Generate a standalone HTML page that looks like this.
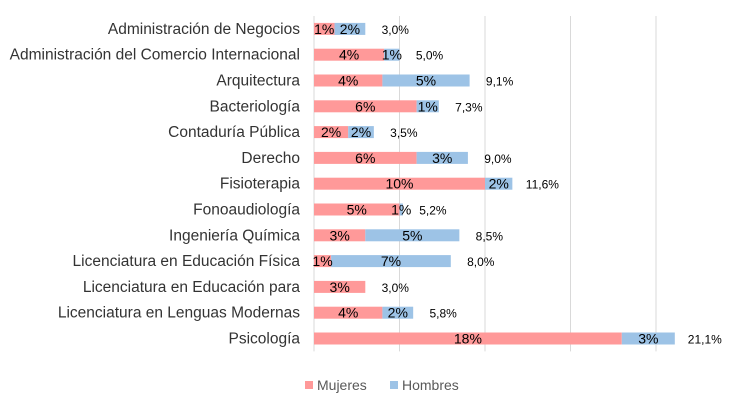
<!DOCTYPE html>
<html><head><meta charset="utf-8"><style>
body{margin:0;background:#fff;width:744px;height:402px;overflow:hidden;font-family:"Liberation Sans",sans-serif}
</style></head><body>
<svg id="chart" width="744" height="402" xmlns="http://www.w3.org/2000/svg"></svg>
<script>
const categories=["Administración de Negocios","Administración del Comercio Internacional","Arquitectura","Bacteriología","Contaduría Pública","Derecho","Fisioterapia","Fonoaudiología","Ingeniería Química","Licenciatura en Educación Física","Licenciatura en Educación para","Licenciatura en Lenguas Modernas","Psicología"];
const mujeres=[1.2,4.1,4.0,6.0,2.0,6.0,10.0,5.0,3.0,1.0,3.0,4.0,18.0];
const hombres=[1.8,0.9,5.1,1.3,1.5,3.0,1.6,0.2,5.5,7.0,0,1.8,3.1];
const mujeresLabels=["1%","4%","4%","6%","2%","6%","10%","5%","3%","1%","3%","4%","18%"];
const hombresLabels=["2%","1%","5%","1%","2%","3%","2%","1%","5%","7%","","2%","3%"];
const totalLabels=["3,0%","5,0%","9,1%","7,3%","3,5%","9,0%","11,6%","5,2%","8,5%","8,0%","3,0%","5,8%","21,1%"];
const gridValues=[0,5,10,15,20];
const NS="http://www.w3.org/2000/svg";
const svg=document.getElementById('chart');
const x0=314,pxPer=17.1,yTop=16,rowH=25.8,barH=12;
const xs=v=>x0+v*pxPer;
const yc=i=>yTop+rowH*(i+0.5);
function mk(t,a){const e=document.createElementNS(NS,t);for(const k in a)e.setAttribute(k,a[k]);svg.appendChild(e);return e;}
gridValues.forEach(g=>{
 const l=mk('line',{x1:xs(g),x2:xs(g),y1:yTop,y2:yTop+rowH*categories.length,stroke:'#d9d9d9','stroke-width':1});
 
 
});
categories.forEach((c,i)=>{
 const y=yc(i);
 const t=mk('text',{x:300,y:y+5,'text-anchor':'end','font-size':15.5,fill:'#333'});t.textContent=c;
 
 
 const r1=mk('rect',{x:xs(0),y:y-barH/2,width:mujeres[i]*pxPer,height:barH,fill:'#ff9999'});
 
 
 const r2=mk('rect',{x:xs(mujeres[i]),y:y-barH/2,width:hombres[i]*pxPer,height:barH,fill:'#9dc3e6'});
 
 
 const l1=mk('text',{x:xs(mujeres[i]/2),y:y+5,'text-anchor':'middle','font-size':14,fill:'#000'});l1.textContent=mujeresLabels[i];
 
 
 if(hombresLabels[i]){const l2=mk('text',{x:xs(mujeres[i]+hombres[i]/2),y:y+5,'text-anchor':'middle','font-size':14,fill:'#000'});l2.textContent=hombresLabels[i];
 
 }
 const tl=mk('text',{x:xs(mujeres[i]+hombres[i])+30,y:y+5,'text-anchor':'middle','font-size':12,fill:'#000'});tl.textContent=totalLabels[i];
 
 
});
const lg=[["Mujeres",'#ff9999',305],["Hombres",'#9dc3e6',390]];
lg.forEach(([n,c,x])=>{
 const r=mk('rect',{x:x,y:381,width:8,height:8,fill:c});
 
 
 const t=mk('text',{x:x+12,y:390,'font-size':14,fill:'#595959'});t.textContent=n;
 
 
});
</script>
</body></html>
